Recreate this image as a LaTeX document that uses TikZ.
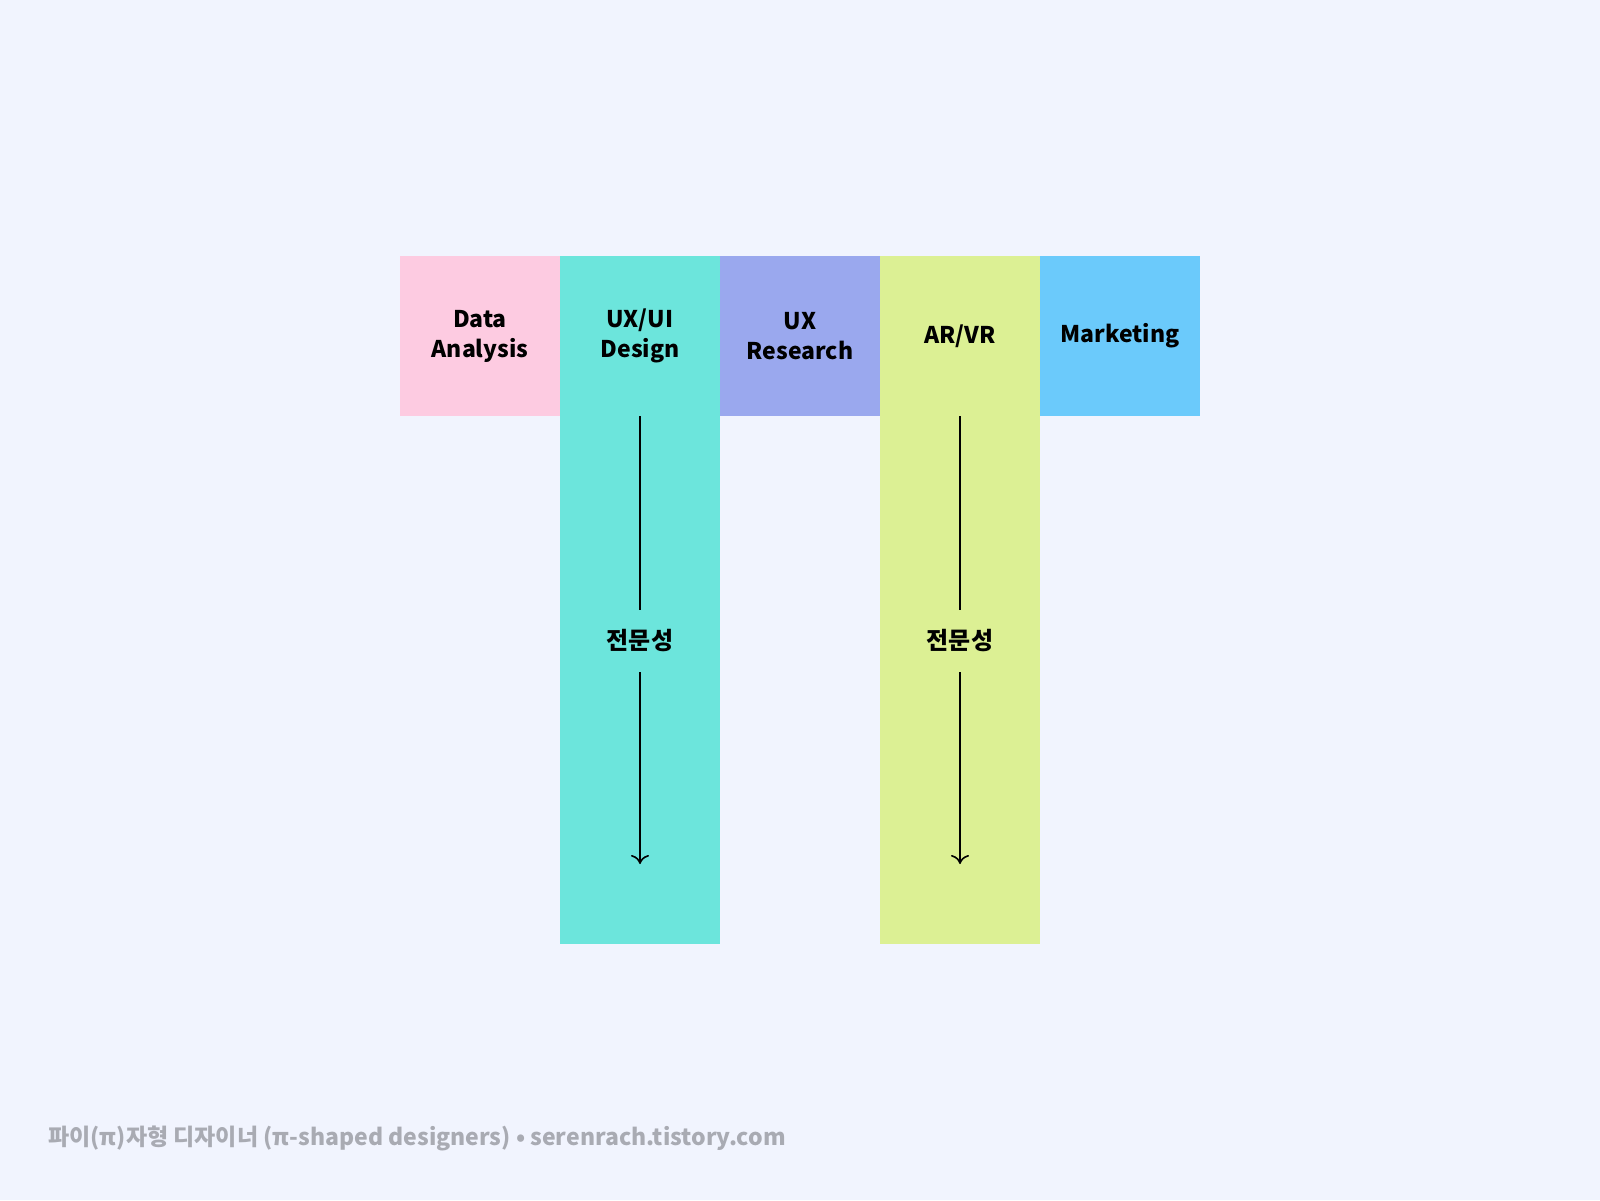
\documentclass[tikz,border=0pt]{standalone}
\usepackage{fontspec}
\setmainfont{Noto Sans CJK KR}
\usepackage{tikz}
\usetikzlibrary{arrows.meta, positioning}

\definecolor{bgcol}{HTML}{F1F4FE}
\definecolor{pinkcol}{HTML}{FDCBE1}
\definecolor{tealcol}{HTML}{6CE5DC}
\definecolor{lavcol}{HTML}{9AA8EE}
\definecolor{limecol}{HTML}{DCF094}
\definecolor{skycol}{HTML}{6BCAFB}
\definecolor{notecol}{HTML}{A9ABB3}

\begin{document}
\begin{tikzpicture}[
    node distance=0pt,
    field/.style={rectangle, minimum width=80pt, minimum height=80pt, inner sep=0pt, outer sep=0pt, text width=76pt, align=center, font=\bfseries\fontsize{11.5}{15}\selectfont},
    stem/.style={rectangle, minimum width=80pt, minimum height=264pt, inner sep=0pt, outer sep=0pt},
    depth/.style={font=\bfseries\fontsize{12}{14}\selectfont, inner sep=0pt, outer sep=0pt, minimum height=31pt},
    arrow/.style={line width=0.8pt, -{To[length=4.5pt,width=9pt]}},
    note/.style={font=\bfseries\fontsize{11.5}{14}\selectfont, text=notecol, inner sep=0pt}
]
% 배경
\fill[bgcol] (0,0) rectangle (800pt,-600pt);
\useasboundingbox (0,0) rectangle (800pt,-600pt);

% 가로 영역
\node[field, fill=pinkcol, anchor=north west] (data) at (200pt,-128pt) {Data\\Analysis};
\node[field, fill=tealcol, right=of data] (uxui) {UX/UI\\Design};
\node[field, fill=lavcol, right=of uxui] (research) {UX\\Research};
\node[field, fill=limecol, right=of research] (arvr) {AR/VR};
\node[field, fill=skycol, right=of arvr] (marketing) {Marketing};

% 세로 영역
\node[stem, fill=tealcol, below=of uxui] (uxuistem) {};
\node[stem, fill=limecol, below=of arvr] (arvrstem) {};

% 전문성
\node[depth, below=97pt of uxui.south] (uxuidepth) {전문성};
\node[depth, below=97pt of arvr.south] (arvrdepth) {전문성};
\coordinate[below=224pt of uxui.south] (uxuiend);
\coordinate[below=224pt of arvr.south] (arvrend);

% 화살표
\draw[line width=0.8pt] (uxuistem.north) -- (uxuidepth.north);
\draw[arrow] (uxuidepth.south) -- (uxuiend);
\draw[line width=0.8pt] (arvrstem.north) -- (arvrdepth.north);
\draw[arrow] (arvrdepth.south) -- (arvrend);

% 출처
\node[note, anchor=west] (source) at (24pt,-569pt) {파이(π)자형 디자이너 (π-shaped designers) • serenrach.tistory.com};
\end{tikzpicture}
\end{document}
